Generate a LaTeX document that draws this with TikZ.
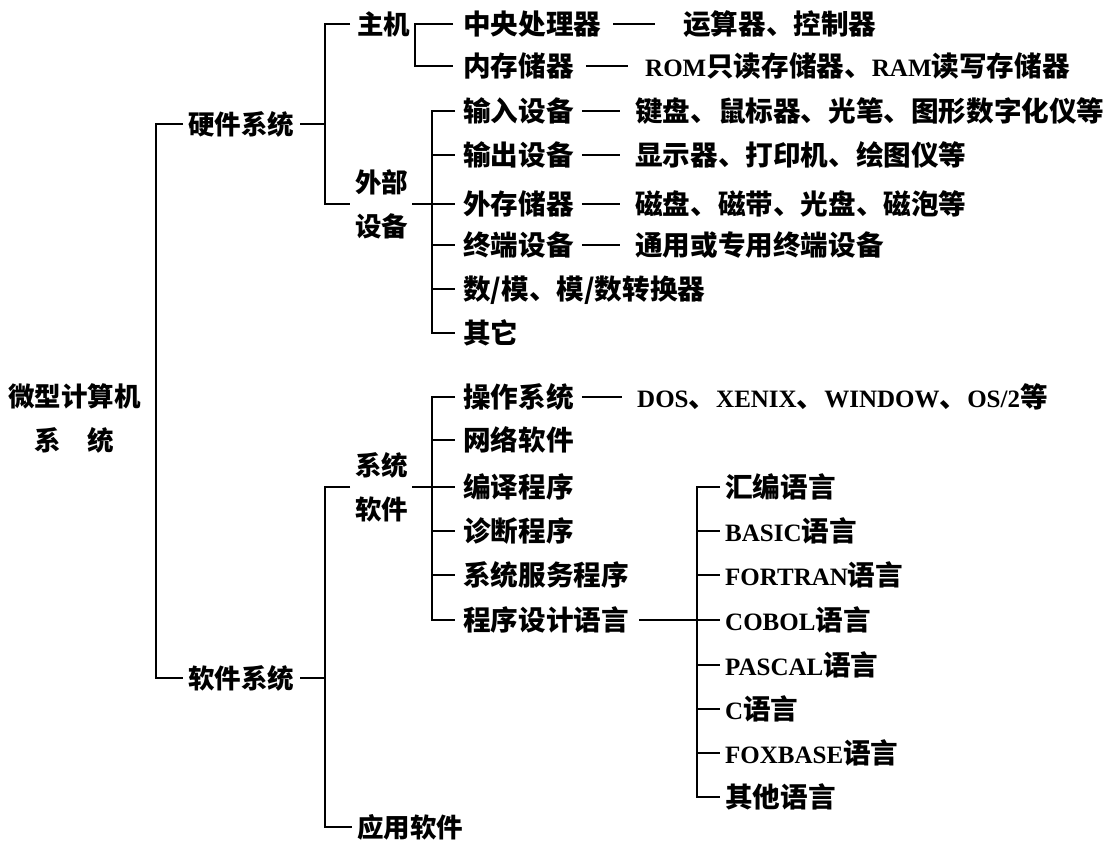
\documentclass[tikz,border=0pt]{standalone}
\usepackage{fontspec}
\newfontfamily\cjk{Noto Sans CJK SC}
\newfontfamily\latf{Liberation Serif}
\newcommand{\lat}[1]{{\latf\bfseries\fontsize{25}{43}\selectfont #1}}
\begin{document}
\begin{tikzpicture}[x=1pt,y=-1pt,
  conn/.style={line width=1.7pt},
  t/.style={anchor=west, inner sep=0pt, font=\cjk\bfseries\fontsize{27.6}{43}\selectfont, text height=24.2pt, text depth=3.4pt},
  u/.style={anchor=west, inner sep=0pt, font=\cjk\bfseries\fontsize{26.5}{43}\selectfont, text height=23.3pt, text depth=3.2pt},
  m/.style={anchor=west, inner sep=0pt, font=\cjk\bfseries\fontsize{26.5}{44}\selectfont, align=center}]
\useasboundingbox (0,0) rectangle (1117,842);
% bus x positions
\coordinate (b0) at (156,0);
\coordinate (b1) at (325,0);
\coordinate (b2) at (415,0);
\coordinate (b3) at (432,0);
\coordinate (b4) at (697,0);
% nodes
\node[m] (root) at (8,418) {微型计算机\\系\hspace{26.5pt}统};
\node[u] (hw) at (188,124) {硬件系统};
\node[u] (sw) at (188,678) {软件系统};
\node[u] (zj) at (357,24) {主机};
\node[m] (wb) at (355,204) {外部\\设备};
\node[t] (cpu) at (463,24) {中央处理器};
\node[t] (cpud) at (683,24) {运算器、控制器};
\node[t] (mem) at (463,66) {内存储器};
\node[t] (memd) at (645,66) {\lat{ROM}只读存储器、\lat{RAM}读写存储器};
\node[t] (in) at (463,111) {输入设备};
\node[t] (ind) at (635,111) {键盘、鼠标器、光笔、图形数字化仪等};
\node[t] (out) at (463,155) {输出设备};
\node[t] (outd) at (635,155) {显示器、打印机、绘图仪等};
\node[t] (ext) at (463,204) {外存储器};
\node[t] (extd) at (635,204) {磁盘、磁带、光盘、磁泡等};
\node[t] (term) at (463,245) {终端设备};
\node[t] (termd) at (635,245) {通用或专用终端设备};
\node[t] (ad) at (463,289) {数/模、模/数转换器};
\node[t] (oth) at (463,333) {其它};
\node[m] (ss) at (355,487) {系统\\软件};
\node[u] (app) at (357,827) {应用软件};
\node[t] (os) at (463,397) {操作系统};
\node[t] (osd) at (637,397) {\lat{DOS}、\lat{XENIX}、\lat{WINDOW}、\lat{OS/2}等};
\node[t] (net) at (463,440) {网络软件};
\node[t] (comp) at (463,487) {编译程序};
\node[t] (diag) at (463,531) {诊断程序};
\node[t] (svc) at (463,575) {系统服务程序};
\node[t] (pl) at (463,620) {程序设计语言};
\node[t] (l1) at (725,487) {汇编语言};
\node[t] (l2) at (725,531) {\lat{BASIC}语言};
\node[t] (l3) at (725,575) {\lat{FORTRAN}语言};
\node[t] (l4) at (725,620) {\lat{COBOL}语言};
\node[t] (l5) at (725,665) {\lat{PASCAL}语言};
\node[t] (l6) at (725,709) {\lat{C}语言};
\node[t] (l7) at (725,753) {\lat{FOXBASE}语言};
\node[t] (l8) at (725,797) {其他语言};
% connectors: level 0
\draw[conn] ([xshift=-5pt]hw.west) -- (hw.west -| b0) -- (sw.west -| b0) -- ([xshift=-5pt]sw.west);
% hardware
\draw[conn] ([xshift=6pt]hw.east) -- (hw.east -| b1);
\draw[conn] ([xshift=-7pt]zj.west) -- (zj.west -| b1) -- (wb.west -| b1) -- ([xshift=-5pt]wb.west);
\draw[conn] ([xshift=-10pt]cpu.west) -- (cpu.west -| b2) -- (mem.west -| b2) -- ([xshift=-10pt]mem.west);
\draw[conn] ([xshift=12pt]cpu.east) -- ([xshift=-28pt]cpud.west);
\draw[conn] ([xshift=12pt]mem.east) -- ([xshift=-17pt]memd.west);
\draw[conn] ([xshift=4pt]wb.east) -- (wb.east -| b3);
\draw[conn] ([xshift=-8pt]in.west) -- (in.west -| b3) -- (oth.west -| b3) -- ([xshift=-8pt]oth.west);
\foreach \n in {out,ext,term,ad} \draw[conn] (\n.west -| b3) -- ([xshift=-8pt]\n.west);
\foreach \n in {in,out,ext,term} \draw[conn] ([xshift=8pt]\n.east) -- ([xshift=-15pt]\n d.west);
% software
\draw[conn] ([xshift=6pt]sw.east) -- (sw.east -| b1);
\draw[conn] ([xshift=-5pt]ss.west) -- (ss.west -| b1) -- (app.west -| b1) -- ([xshift=-5pt]app.west);
\draw[conn] ([xshift=4pt]ss.east) -- (ss.east -| b3);
\draw[conn] ([xshift=-8pt]os.west) -- (os.west -| b3) -- (pl.west -| b3) -- ([xshift=-8pt]pl.west);
\foreach \n in {net,comp,diag,svc} \draw[conn] (\n.west -| b3) -- ([xshift=-8pt]\n.west);
\draw[conn] ([xshift=8pt]os.east) -- ([xshift=-15pt]osd.west);
\draw[conn] ([xshift=10pt]pl.east) -- (pl.east -| b4);
\draw[conn] ([xshift=-5pt]l1.west) -- (l1.west -| b4) -- (l8.west -| b4) -- ([xshift=-5pt]l8.west);
\foreach \n in {l2,l3,l4,l5,l6,l7} \draw[conn] (\n.west -| b4) -- ([xshift=-5pt]\n.west);
\end{tikzpicture}
\end{document}
